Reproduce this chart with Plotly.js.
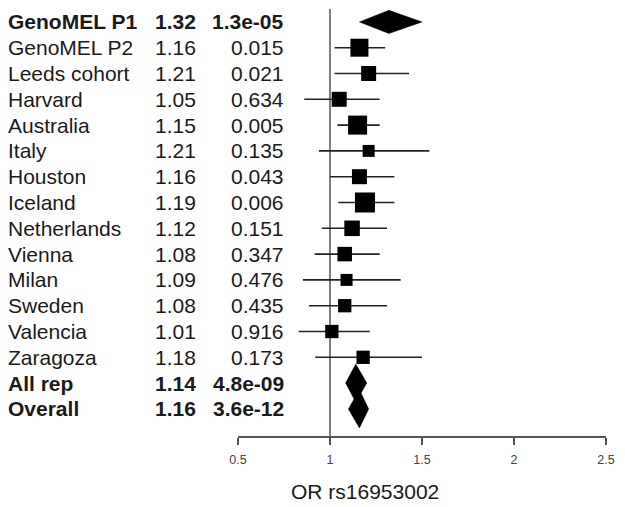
<!DOCTYPE html>
<html>
<head>
<meta charset="utf-8">
<script src="https://cdn.plot.ly/plotly-3.0.1.min.js"></script>
<style>html,body{margin:0;padding:0;background:#fff;}#chart{width:625px;height:507px;}</style>
</head>
<body>
<div id="chart"></div>
<script>
const studies = ['GenoMEL P1','GenoMEL P2','Leeds cohort','Harvard','Australia','Italy','Houston','Iceland','Netherlands','Vienna','Milan','Sweden','Valencia','Zaragoza','All rep','Overall'];
const orValues = [1.32,1.16,1.21,1.05,1.15,1.21,1.16,1.19,1.12,1.08,1.09,1.08,1.01,1.18,1.14,1.16];
const orLabels = ['1.32','1.16','1.21','1.05','1.15','1.21','1.16','1.19','1.12','1.08','1.09','1.08','1.01','1.18','1.14','1.16'];
const pLabels = ['1.3e-05','0.015','0.021','0.634','0.005','0.135','0.043','0.006','0.151','0.347','0.476','0.435','0.916','0.173','4.8e-09','3.6e-12'];
const ciLower = [1.16,1.025,1.025,0.86,1.04,0.94,1.00,1.045,0.955,0.917,0.853,0.886,0.83,0.92,1.085,1.10];
const ciUpper = [1.50,1.30,1.43,1.27,1.27,1.54,1.35,1.35,1.31,1.27,1.384,1.31,1.216,1.50,1.20,1.21];
const studyWeight = [0,18,15,15,19,12,15,20,15.5,14.5,12,13.3,13.3,13.3,0,0];
const isSummary = [true,false,false,false,false,false,false,false,false,false,false,false,false,false,true,true];
const xTicks = [0.5,1,1.5,2,2.5];
const xTitle = 'OR rs16953002';

const rows = studies.map((_, i) => i);
const sqIdx = rows.filter(i => !isSummary[i]);
const dmIdx = rows.filter(i => isSummary[i]);

const traces = [];
traces.push({
  type: 'scatter', mode: 'markers',
  x: sqIdx.map(i => orValues[i]),
  y: sqIdx,
  marker: {symbol: 'square', color: '#000', opacity: 1, size: sqIdx.map(i => studyWeight[i]), line: {width: 0}},
  error_x: {type: 'data', symmetric: false,
    array: sqIdx.map(i => ciUpper[i] - orValues[i]),
    arrayminus: sqIdx.map(i => orValues[i] - ciLower[i]),
    width: 0, thickness: 1.6, color: '#222'},
  hoverinfo: 'skip', showlegend: false
});
dmIdx.forEach(i => {
  const h = i === 0 ? 0.45 : 0.74;
  traces.push({
    type: 'scatter', mode: 'lines', fill: 'toself', fillcolor: '#000',
    x: [ciLower[i], orValues[i], ciUpper[i], orValues[i], ciLower[i]],
    y: [i, i - h, i, i + h, i],
    line: {color: '#000', width: 0.5},
    hoverinfo: 'skip', showlegend: false
  });
});

const L = 238, W = 368;
const px = p => (p - L) / W;
const annotations = [];
rows.forEach(i => {
  const wrap = s => isSummary[i] ? '<b>' + s + '</b>' : s;
  const f = {family: 'Liberation Sans, Arial, sans-serif', size: 21, color: '#1a1a1a'};
  annotations.push({xref: 'paper', yref: 'y', x: px(6), y: i, xanchor: 'left', yanchor: 'middle', text: wrap(studies[i]), showarrow: false, font: f});
  annotations.push({xref: 'paper', yref: 'y', x: px(198), y: i, xanchor: 'right', yanchor: 'middle', text: wrap(orLabels[i]), showarrow: false, font: f});
  annotations.push({xref: 'paper', yref: 'y', x: px(286), y: i, xanchor: 'right', yanchor: 'middle', text: wrap(pLabels[i]), showarrow: false, font: f});
});
annotations.push({xref: 'paper', yref: 'paper', x: px(365), y: -0.13, xanchor: 'center', yanchor: 'middle', text: xTitle, showarrow: false, font: {family: 'Liberation Sans, Arial, sans-serif', size: 21, color: '#1a1a1a'}});

const layout = {
  width: 625, height: 507,
  margin: {l: 238, r: 19, t: 9, b: 71},
  paper_bgcolor: '#fff', plot_bgcolor: '#fff',
  showlegend: false,
  xaxis: {range: [0.5, 2.5], tickvals: xTicks, ticktext: xTicks.map(String),
    showgrid: false, zeroline: false, showline: true, linecolor: '#555', linewidth: 1.5,
    ticks: 'outside', ticklen: 7, tickwidth: 1.5, tickcolor: '#555',
    ticklabelstandoff: 4,
    tickfont: {family: 'Liberation Sans, Arial, sans-serif', size: 12.5, color: '#444'}},
  yaxis: {range: [16.05, -0.5], visible: false, showgrid: false, zeroline: false},
  shapes: [{type: 'line', xref: 'x', yref: 'paper', x0: 1, x1: 1, y0: 0, y1: 1, line: {color: '#555', width: 1.5}, layer: 'below'}],
  annotations: annotations
};
Plotly.newPlot('chart', traces, layout, {staticPlot: true, displayModeBar: false});
</script>
</body>
</html>
